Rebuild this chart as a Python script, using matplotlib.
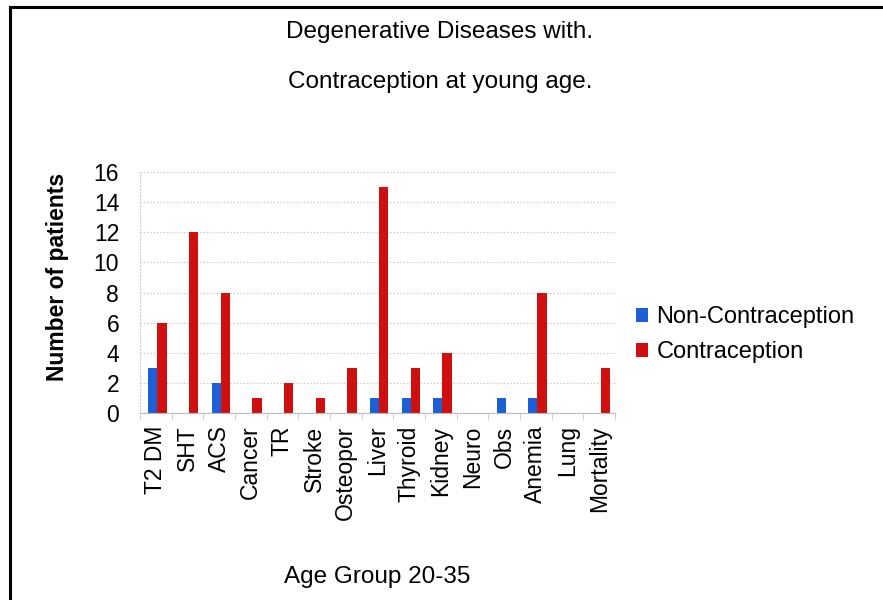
import numpy as np
import matplotlib
matplotlib.use('Agg')
import matplotlib.pyplot as plt
from matplotlib.lines import Line2D

plt.rcParams['font.family'] = ['Liberation Sans', 'DejaVu Sans']

### datos
enfermedades = ['T2 DM', 'SHT', 'ACS', 'Cancer', 'TR', 'Stroke', 'Osteopor', 'Liver',
                'Thyroid', 'Kidney', 'Neuro', 'Obs', 'Anemia', 'Lung', 'Mortality']
no_contracepcion = [3, 0, 2, 0, 0, 0, 0, 1, 1, 1, 0, 1, 1, 0, 0]
contracepcion = [6, 12, 8, 1, 2, 1, 3, 15, 3, 4, 0, 0, 8, 0, 3]
y_ticks = [0, 2, 4, 6, 8, 10, 12, 14, 16]

azul = '#1C5FD6'
rojo = '#D0100E'

fig = plt.figure(figsize=(8.83, 6.0), dpi=100)
ax = fig.add_axes([140/883, 1-413/600, 475/883, (413-172)/600])

x = np.arange(len(enfermedades))
ancho = 0.29
ax.bar(x - ancho/2 + 0.05, no_contracepcion, ancho, color=azul, label='Non-Contraception')
ax.bar(x + ancho/2 + 0.05, contracepcion, ancho, color=rojo, label='Contraception')

ax.set_xlim(-0.5, len(enfermedades) - 0.5)
ax.set_ylim(0, 16)
ax.set_yticks(y_ticks)
ax.set_yticklabels([str(t) for t in y_ticks], fontsize=16.5)
ax.set_xticks(x)
ax.set_xticklabels(enfermedades, rotation=90, fontsize=16.5)
ax.tick_params(axis='x', length=0, pad=9)
ax.tick_params(axis='y', length=0, pad=15)
ax.set_xticks(np.arange(-0.5, len(enfermedades)), minor=True)
ax.tick_params(axis='x', which='minor', length=5, color='#cccccc')

ax.grid(axis='y', color='#bbbbbb', linestyle=(0, (1, 2)), linewidth=0.8)
ax.set_axisbelow(True)
for lado in ['top', 'right']:
    ax.spines[lado].set_visible(False)
ax.spines['left'].set_color('#cccccc')
ax.spines['left'].set_linestyle((0, (1, 2)))
ax.spines['bottom'].set_color('#bbbbbb')

ax.set_ylabel('Number of patients', fontsize=16.5, fontweight='bold')
ax.yaxis.set_label_coords(-0.15, 0.564)

ax.legend(loc='center left', bbox_to_anchor=(1.0, 0.324), frameon=False, fontsize=17,
          handlelength=0.5, handleheight=0.5, handletextpad=0.35, labelspacing=0.55)

fig.text(440/883, 1-32/600, 'Degenerative Diseases with.', ha='center', va='center', fontsize=17.5)
fig.text(440/883, 1-82/600, 'Contraception at young age.', ha='center', va='center', fontsize=17.5)
fig.text(377/883, 1-577/600, 'Age Group 20-35', ha='center', va='center', fontsize=17.5)

# marco
fig.add_artist(Line2D([10/883, 10/883], [0, 1-7/600], color='black', linewidth=2.2))
fig.add_artist(Line2D([10/883, 1], [1-7/600, 1-7/600], color='black', linewidth=2.2))

fig.savefig('out.png', dpi=100)
